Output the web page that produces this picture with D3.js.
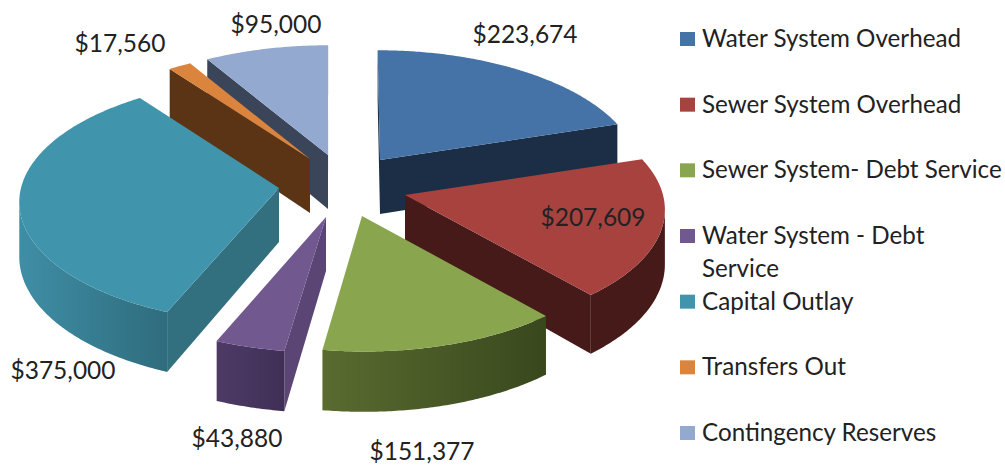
<!DOCTYPE html>
<html>
<head>
<meta charset="utf-8">
<script src="https://cdn.jsdelivr.net/npm/d3@7"></script>
<style>
  html, body { margin: 0; padding: 0; background: #fff; }
  svg { display: block; }
  text { font-family: Lato, "Open Sans", sans-serif; fill: #222; }
</style>
</head>
<body>
<div id="chart"></div>
<script>
// Chart data
const categories = ['Water System Overhead', 'Sewer System Overhead', 'Sewer System- Debt Service',
    'Water System - Debt Service', 'Capital Outlay', 'Transfers Out', 'Contingency Reserves'];
const amounts = [223674, 207609, 151377, 43880, 375000, 17560, 95000];

// Legend lines (one entry wraps in the original)
const legendLines = [['Water System Overhead'], ['Sewer System Overhead'], ['Sewer System- Debt Service'],
    ['Water System - Debt', 'Service'], ['Capital Outlay'], ['Transfers Out'], ['Contingency Reserves']];

// Slice colours: top face, side wall, outer wall gradient (left, right)
const topColors = ['#4572a7', '#a8423f', '#89a54e', '#71588f', '#4095ad', '#db843d', '#93a9cf'];
const wallColors = ['#1b2e45', '#451a18', '#3a4a1e', '#5b4574', '#33707f', '#5a3415', '#3b4559'];
const rimLeft = ['#1b2e45', '#451a18', '#5a6b30', '#4d3b66', '#3f8ea6', '#5a3415', '#3b4559'];
const rimRight = ['#1b2e45', '#451a18', '#38481d', '#3f2f55', '#2f6c7d', '#5a3415', '#3b4559'];

// Where the tip of each pulled-out slice lands on screen
const tipX = [380, 405, 362, 326, 279, 310, 328];
const tipY = [160, 195, 216, 217, 188, 159, 155];

const labelX = [525, 593, 422, 237, 63, 120, 276];
const labelY = [43, 226, 460, 447, 379, 52, 33];

// Back to front
const drawOrder = [6, 0, 5, 4, 1, 3, 2];

const width = 1005, height = 466;
const radius = 258, tilt = 0.47, persp = 0.105, depth = 54;
const centerX = 330, converge = 0.5;

const svg = d3.select('#chart')
    .append('svg')
    .attr('width', width)
    .attr('height', height);

const defs = svg.append('defs');
const money = d3.format('$,');
const line = d3.line();

const pie = d3.pie().sort(null).startAngle(0).endAngle(2 * Math.PI);
const slices = pie(amounts);

// Flat pie disc seen at an angle, front of the pie gets bigger
function project(i, angle, r, down) {
    const v = Math.cos(angle) * r;
    const s = 1 / (1 + persp * v);
    return [
        tipX[i] + (tipX[i] - centerX) * (s - 1) * converge + Math.sin(angle) * r * radius * s,
        tipY[i] - v * radius * tilt * s + (down ? depth * s : 0)
    ];
}

function arcAngles(d) {
    const n = Math.ceil((d.endAngle - d.startAngle) / 0.01);
    return d3.range(n + 1).map(k => d.startAngle + (d.endAngle - d.startAngle) * k / n);
}

drawOrder.forEach(i => {
    const d = slices[i];
    const g = svg.append('g');
    const tipTop = project(i, 0, 0, false), tipBottom = project(i, 0, 0, true);
    const angles = arcAngles(d);
    const rimTop = angles.map(a => project(i, a, 1, false));
    const rimBottom = angles.map(a => project(i, a, 1, true));
    const first = rimTop[0], last = rimTop[rimTop.length - 1];

    // a wall shows only when its top edge runs right to left (face is clockwise on screen)
    if (first[0] < tipTop[0]) {
        g.append('path')
            .attr('d', line([tipTop, first, rimBottom[0], tipBottom]) + 'Z')
            .attr('fill', wallColors[i]);
    }
    if (last[0] > tipTop[0]) {
        g.append('path')
            .attr('d', line([tipTop, last, rimBottom[rimBottom.length - 1], tipBottom]) + 'Z')
            .attr('fill', wallColors[i]);
    }

    // Outer curved wall
    const visible = d3.range(rimTop.length - 1).filter(k => rimTop[k + 1][0] < rimTop[k][0]);
    if (visible.length) {
        const from = visible[0], to = visible[visible.length - 1] + 1;
        const upper = rimTop.slice(from, to + 1);
        const lower = rimBottom.slice(from, to + 1).reverse();
        const gradId = 'rim' + i;
        const grad = defs.append('linearGradient')
            .attr('id', gradId)
            .attr('gradientUnits', 'userSpaceOnUse')
            .attr('x1', d3.min(upper, p => p[0]))
            .attr('x2', d3.max(upper, p => p[0]))
            .attr('y1', 0)
            .attr('y2', 0);
        grad.append('stop').attr('offset', 0).attr('stop-color', rimLeft[i]);
        grad.append('stop').attr('offset', 1).attr('stop-color', rimRight[i]);
        g.append('path')
            .attr('d', line(upper.concat(lower)) + 'Z')
            .attr('fill', `url(#${gradId})`);
    }

    // Top face
    g.append('path')
        .attr('d', line([tipTop].concat(rimTop)) + 'Z')
        .attr('fill', topColors[i]);
});

// Value labels
svg.append('g')
    .selectAll('text')
    .data(amounts)
    .enter()
    .append('text')
    .attr('x', (d, i) => labelX[i])
    .attr('y', (d, i) => labelY[i])
    .attr('text-anchor', 'middle')
    .attr('font-size', 24.5)
    .text(d => money(d));

// Legend
const legendY = d3.scalePoint().domain(categories).range([39, 433]);
const legend = svg.append('g')
    .selectAll('g')
    .data(categories)
    .enter()
    .append('g')
    .attr('transform', d => `translate(680,${legendY(d)})`);

legend.append('rect')
    .attr('y', -7)
    .attr('width', 15)
    .attr('height', 14)
    .attr('fill', (d, i) => topColors[i]);

legend.each(function(d, i) {
    const text = d3.select(this).append('text')
        .attr('x', 22)
        .attr('y', 8)
        .attr('font-size', 24.2);
    text.selectAll('tspan')
        .data(legendLines[i])
        .enter()
        .append('tspan')
        .attr('x', 22)
        .attr('dy', (t, k) => k === 0 ? 0 : 33)
        .text(t => t);
});
</script>
</body>
</html>
